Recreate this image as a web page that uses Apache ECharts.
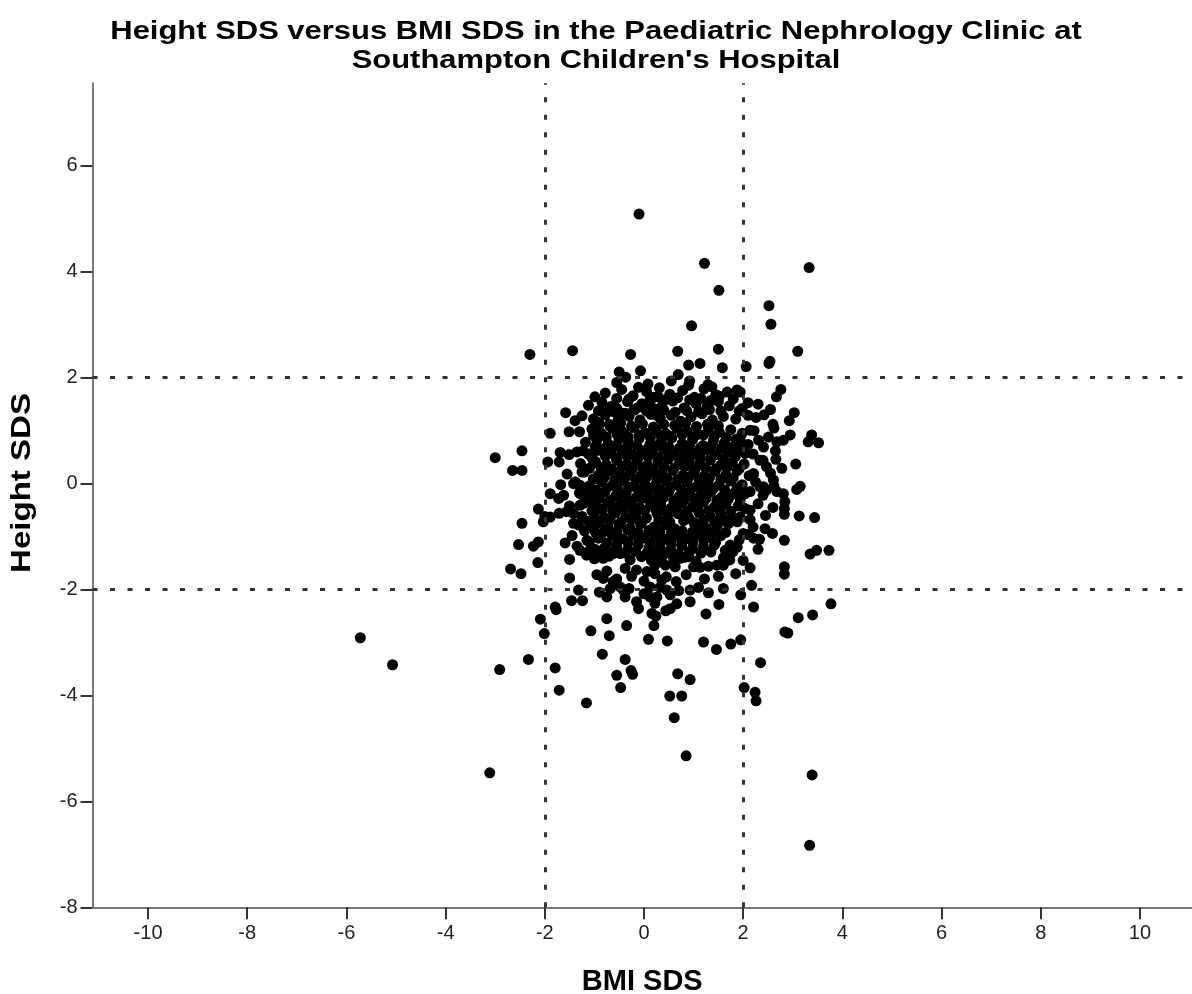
<!DOCTYPE html>
<html><head><meta charset="utf-8">
<script src="https://cdn.jsdelivr.net/npm/echarts@6/dist/echarts.min.js"></script>
<style>html,body{margin:0;padding:0;background:#fff}#c{width:1192px;height:994px}</style>
</head><body><div id="c"></div>
<script>
const titleText = "Height SDS versus BMI SDS in the Paediatric Nephrology Clinic at\nSouthampton Children's Hospital";
const xAxisName = "BMI SDS";
const yAxisName = "Height SDS";
const xTicks = [-10, -8, -6, -4, -2, 0, 2, 4, 6, 8, 10];
const yTicks = [-8, -6, -4, -2, 0, 2, 4, 6];
const refLinesX = [-2, 2];
const refLinesY = [-2, 2];

// [BMI SDS, Height SDS]
const upperPoints = [
[-0.10,5.09],[1.22,4.16],[1.51,3.65],[3.33,4.08],[2.52,3.36],[2.56,3.01],[0.96,2.98],
[-2.30,2.44],[-1.44,2.51],[-0.27,2.44],[0.68,2.50],[1.50,2.54],[3.10,2.50],
[2.54,2.31],[2.52,2.27],[0.90,2.24],[1.13,2.27],[1.58,2.19],[2.06,2.21],
[0.69,2.06],[-0.50,2.11],[-0.07,2.13],[-0.55,1.91],[-0.37,2.01],[-0.11,1.82],[0.08,1.88],
[0.55,1.94],[0.92,1.94],[0.90,1.86],[1.29,1.87],[1.37,1.83],[1.88,1.77],[1.94,1.73],[2.76,1.78],
[2.67,1.64],[3.03,1.34],[2.93,1.19],[2.60,1.12],[2.10,1.53],[1.80,1.60],[1.52,1.65],
[-0.99,1.64],[-1.58,1.34],[-1.39,1.19],[-0.92,1.37],[-0.92,1.16],
[1.92,1.37],[2.10,1.29],[2.26,1.25],[2.51,0.88],[2.68,0.79],[2.81,0.82],[2.95,0.92],
[2.31,0.82],[2.41,0.69],[2.14,1.01],[1.94,0.82],[2.04,0.57],
[2.34,0.44],[2.47,0.32],[2.21,0.19],[2.61,0.07],[2.41,-0.06],
[-0.68,1.45],[-0.55,1.42],[-0.42,1.33],[-0.70,1.12],[-0.55,1.10],
[-0.37,1.33],[-0.19,1.39],[-0.04,1.51],[0.12,1.58],[0.29,1.64],[0.19,1.42],[0.26,1.29]
];

const leftPoints = [
[-3.00,0.49],[-2.46,0.62],[-2.65,0.25],[-2.46,0.25],[-1.89,0.95],[-1.94,0.41],[-1.51,0.98],
[-1.69,0.59],[-1.51,0.55],[-1.71,0.41],[-1.23,0.62],[-1.02,0.59],[-1.01,0.39],[-1.25,0.22],[-1.39,0.03],
[-2.13,-0.48],[-2.46,-0.75],[-2.53,-1.15],[-2.23,-1.18],[-2.13,-1.10],[-2.14,-1.49],
[-2.69,-1.61],[-2.48,-1.70],[-1.59,-1.12],[-1.50,-1.43],[-1.50,-1.78],
[-2.03,-0.72],[-2.00,-0.62],[-1.89,-0.19],[-1.72,-0.28],[-1.89,-0.63],[-1.71,-0.56],[-1.56,-0.53],
[-1.42,-0.56],[-1.42,-0.75],[-1.29,-1.26],[-1.16,-1.35],[-0.99,-1.24],
[-1.29,-0.19],[-1.09,-0.22],[-1.29,-0.41],[-1.02,-0.41],[-1.42,0.00],[-1.29,-0.03],
[-1.09,-0.82],[-0.95,-0.75],[-0.85,-0.94],[-0.75,-0.88],[-1.15,-1.07],[-1.09,-1.26]
];

const rightPoints = [
[3.06,0.37],[3.08,-0.11],[3.15,-0.05],[3.31,0.79],[3.52,0.77],[3.38,0.92],[2.66,0.46],[2.78,0.29],
[2.68,-0.15],[2.81,-0.19],[2.84,-0.34],
[3.35,-1.33],[3.48,-1.26],[3.73,-1.26],[3.44,-0.64],[3.13,-0.61],[2.83,-0.58],[2.83,-0.47],
[2.83,-1.07],[2.59,-0.94],[2.44,-0.85],[2.33,-1.05],[2.21,-1.03],[2.10,-0.96],[2.00,-0.94],
[2.14,-0.68],[1.94,-0.63],[2.04,-0.47],[2.14,-0.50],
[1.94,-0.31],[2.04,-0.19],[1.87,-0.12],[2.14,-0.15],[2.34,-0.06],[2.47,-0.12],
[2.17,-1.92],[2.14,-1.59],[2.83,-1.57],[2.83,-1.71],
[1.47,-1.54],[1.30,-1.56],[1.13,-1.58],[1.00,-1.57],[1.60,-1.54],[1.73,-1.44],
[1.79,-1.29],[1.74,-1.16],[1.64,-1.26]
];

const lowerPoints = [
[-1.46,-2.21],[-1.24,-2.21],[-1.32,-2.01],[-1.79,-2.33],[-1.77,-2.38],[-2.09,-2.56],[-2.01,-2.83],
[-1.07,-2.78],[-0.75,-2.55],[-0.70,-2.87],[-0.35,-2.68],[0.09,-2.94],[0.47,-2.97],
[0.24,-2.50],[0.20,-2.68],[0.53,-2.36],[0.66,-2.27],[0.44,-2.40],[0.93,-2.23],[1.25,-2.46],[1.51,-2.28],
[2.21,-2.33],[2.84,-2.80],[2.90,-2.82],[3.11,-2.53],[3.40,-2.48],[3.77,-2.27],
[-0.82,-1.41],[-0.62,-1.32],[-0.48,-1.32],[-0.75,-1.65],[-0.82,-1.79],
[-0.62,-1.85],[-0.48,-1.95],[-0.38,-2.14],[-0.75,-2.14],
[-0.15,-2.23],[-0.11,-2.36],[0.12,-2.14],
[-0.38,-1.60],[-0.15,-1.63],[0.06,-1.66],[0.22,-1.54],[-0.68,-1.98],[-0.42,-2.01],
[0.93,-2.01],[1.10,-1.96],
[0.22,-2.26],[0.16,-2.45],[0.26,-2.14],[0.46,-2.01],[0.53,-2.10],[0.36,-1.82],[0.22,-1.70],[0.12,-1.95],
[0.63,-1.57],[0.43,-1.54],[0.19,-1.32],[0.29,-1.44],[0.53,-1.26],[0.73,-1.41],[0.90,-1.38],
[-5.72,-2.91],[-5.07,-3.42],[-2.91,-3.51],[-2.33,-3.32],[-3.11,-5.46],[-1.79,-3.48],[-1.71,-3.90],
[-1.16,-4.14],[-0.84,-3.22],[-0.38,-3.32],[-0.55,-3.62],[-0.47,-3.85],[-0.26,-3.53],[-0.23,-3.60],
[0.68,-3.59],[0.93,-3.70],[0.52,-4.01],[0.76,-4.01],[0.61,-4.42],[0.85,-5.14],
[1.20,-2.99],[1.46,-3.13],[1.75,-3.03],[1.95,-2.95],[2.35,-3.38],[2.02,-3.85],[2.24,-3.94],[2.26,-4.10],
[3.39,-5.50],[3.34,-6.83]
];

const corePoints = [
[-0.78,1.71],[-0.45,1.78],[-0.22,1.66],[0.05,1.74],[0.31,1.81],[0.52,1.69],[0.78,1.76],[1.02,1.63],[1.21,1.79],[1.45,1.68],[1.68,1.73],
[-1.12,1.48],[-0.85,1.54],[-0.61,1.47],[-0.33,1.55],[-0.12,1.44],[0.10,1.52],[0.36,1.46],[0.58,1.56],[0.81,1.43],[1.05,1.51],[1.27,1.45],[1.50,1.55],[1.72,1.47],[1.98,1.42],[2.30,1.50],[2.55,1.40],
[-1.25,1.28],[-1.02,1.22],[-0.78,1.30],[-0.52,1.21],[-0.30,1.27],[-0.08,1.20],[0.14,1.31],[0.33,1.23],[0.55,1.29],[0.74,1.18],[0.95,1.26],[1.17,1.32],[1.38,1.20],[1.60,1.27],[1.85,1.22],[2.42,1.30],
[-1.30,0.98],[-1.05,1.03],[-0.86,0.95],[-0.63,1.04],[-0.41,0.97],[-0.20,1.06],[0.02,0.96],[0.24,1.02],[0.45,0.94],[0.66,1.05],[0.87,0.99],[1.08,0.93],[1.30,1.04],[1.52,0.97],[1.75,1.02],[1.98,0.95],[2.22,1.00],[2.62,1.05],
[-1.18,0.78],[-0.95,0.82],[-0.72,0.75],[-0.50,0.84],[-0.31,0.77],[-0.10,0.85],[0.12,0.74],[0.35,0.80],[0.56,0.86],[0.77,0.76],[0.98,0.83],[1.19,0.72],[1.40,0.81],[1.62,0.77],[1.86,0.84],[2.10,0.74],
[-1.35,0.60],[-1.12,0.56],[-0.88,0.63],[-0.66,0.57],[-0.45,0.64],[-0.24,0.55],[-0.04,0.62],[0.18,0.58],[0.39,0.65],[0.60,0.54],[0.82,0.61],[1.03,0.57],[1.24,0.64],[1.46,0.55],[1.70,0.60],[1.92,0.66],[2.20,0.56],[2.65,0.62],
[-1.28,0.38],[-0.98,0.42],[-0.76,0.36],[-0.55,0.44],[-0.34,0.37],[-0.14,0.43],[0.07,0.35],[0.28,0.41],[0.49,0.46],[0.70,0.36],[0.91,0.42],[1.12,0.38],[1.34,0.45],[1.55,0.35],[1.78,0.41],[2.02,0.37],[2.40,0.44],
[-1.55,0.18],[-1.20,0.22],[-0.92,0.16],[-0.70,0.24],[-0.49,0.17],[-0.28,0.23],[-0.06,0.15],[0.15,0.22],[0.36,0.18],[0.58,0.25],[0.79,0.16],[1.00,0.21],[1.21,0.14],[1.43,0.23],[1.65,0.17],[1.88,0.24],[2.12,0.15],[2.55,0.20],
[-1.68,-0.02],[-1.38,0.03],[-1.10,-0.04],[-0.86,0.04],[-0.63,-0.03],[-0.42,0.05],[-0.20,-0.05],[0.01,0.02],[0.22,-0.04],[0.44,0.05],[0.65,-0.02],[0.86,0.04],[1.07,-0.05],[1.29,0.02],[1.51,-0.03],[1.74,0.05],[1.98,-0.02],[2.25,0.03],[2.62,-0.04],
[-1.62,-0.22],[-1.30,-0.17],[-1.02,-0.24],[-0.79,-0.16],[-0.57,-0.23],[-0.36,-0.18],[-0.15,-0.25],[0.07,-0.17],[0.28,-0.22],[0.50,-0.15],[0.71,-0.24],[0.92,-0.18],[1.13,-0.23],[1.35,-0.16],[1.57,-0.25],[1.80,-0.19],[2.40,-0.22],
[-1.50,-0.42],[-1.22,-0.37],[-0.95,-0.44],[-0.73,-0.36],[-0.52,-0.43],[-0.30,-0.38],[-0.09,-0.45],[0.13,-0.36],[0.34,-0.41],[0.55,-0.46],[0.77,-0.37],[0.98,-0.43],[1.20,-0.35],[1.42,-0.44],[1.65,-0.39],[1.90,-0.42],[2.30,-0.38],[2.60,-0.45],
[-1.25,-0.62],[-1.00,-0.57],[-0.80,-0.64],[-0.58,-0.55],[-0.37,-0.63],[-0.16,-0.58],[0.05,-0.65],[0.26,-0.56],[0.48,-0.62],[0.69,-0.57],[0.90,-0.64],[1.11,-0.55],[1.33,-0.61],[1.55,-0.58],[1.78,-0.65],[2.45,-0.60],
[-1.32,-0.78],[-0.72,-0.83],[-0.50,-0.77],[-0.28,-0.84],[-0.07,-0.76],[0.20,-0.82],[0.42,-0.78],[0.62,-0.85],[1.05,-0.77],[1.26,-0.84],[1.48,-0.79],[1.70,-0.76],[2.20,-0.82],
[-1.45,-0.98],[-0.92,-1.03],[-0.64,-0.97],[-0.43,-1.04],[-0.22,-0.96],[0.00,-1.02],[0.21,-0.97],[0.43,-1.05],[0.66,-0.99],[0.88,-1.04],[1.10,-0.96],[1.32,-1.02],[1.55,-0.98],[1.92,-1.06],
[-1.35,-1.18],[-0.80,-1.22],[-0.55,-1.17],[-0.33,-1.24],[-0.12,-1.16],[0.10,-1.22],[0.32,-1.18],[0.54,-1.25],[0.76,-1.17],[0.98,-1.23],[1.20,-1.19],[1.42,-1.16],[1.88,-1.20],[2.30,-1.24],
[-1.00,-1.42],[-0.70,-1.37],[-0.28,-1.44],[-0.05,-1.38],[0.15,-1.45],[0.38,-1.36],[0.60,-1.43],[0.82,-1.39],[1.05,-1.46],[1.60,-1.40],[2.00,-1.45],
[-0.95,-1.72],[-0.55,-1.80],[-0.25,-1.75],[0.00,-1.84],[0.45,-1.76],[0.65,-1.85],[0.85,-1.72],[1.22,-1.80],[1.50,-1.75],[1.85,-1.70],
[-0.90,-2.05],[-0.30,-1.98],[0.00,-2.08],[0.32,-1.96],[0.70,-2.02],[1.30,-2.06],[1.60,-1.98],[1.95,-2.10]
];

const denseCorePoints = [
[-0.55,1.61],[-0.30,1.60],[0.20,1.63],[0.45,1.59],[0.68,1.62],[0.92,1.58],[1.15,1.61],[1.35,1.57],
[-0.88,1.38],[-0.62,1.36],[-0.20,1.40],[0.05,1.37],[0.40,1.39],[0.63,1.35],[0.86,1.38],[1.10,1.36],[1.32,1.40],[1.55,1.37],
[-0.90,1.12],[-0.68,1.08],[-0.47,1.14],[-0.25,1.09],[-0.03,1.13],[0.19,1.07],[0.40,1.12],[0.62,1.10],[0.84,1.14],[1.06,1.08],[1.28,1.12],[1.50,1.09],
[-1.02,0.91],[-0.76,0.88],[-0.54,0.93],[-0.32,0.89],[-0.10,0.92],[0.13,0.87],[0.34,0.91],[0.55,0.89],[0.77,0.93],[0.99,0.88],[1.20,0.92],[1.42,0.90],[1.66,0.87],
[-0.98,0.70],[-0.80,0.67],[-0.57,0.72],[-0.35,0.68],[-0.14,0.71],[0.08,0.66],[0.29,0.73],[0.50,0.69],[0.71,0.67],[0.92,0.72],[1.14,0.68],[1.35,0.71],[1.56,0.67],[1.80,0.70],
[-1.05,0.49],[-0.78,0.52],[-0.56,0.48],[-0.35,0.53],[-0.13,0.47],[0.08,0.51],[0.30,0.49],[0.51,0.54],[0.72,0.47],[0.93,0.50],[1.14,0.48],[1.36,0.52],[1.60,0.47],[1.84,0.51],
[-1.10,0.29],[-0.87,0.31],[-0.65,0.27],[-0.44,0.32],[-0.23,0.28],[-0.02,0.30],[0.19,0.26],[0.40,0.31],[0.61,0.29],[0.82,0.32],[1.03,0.27],[1.24,0.30],[1.45,0.28],[1.68,0.31],[1.92,0.28],
[-1.02,0.09],[-0.80,0.12],[-0.59,0.07],[-0.38,0.11],[-0.17,0.08],[0.05,0.12],[0.26,0.07],[0.47,0.10],[0.68,0.08],[0.90,0.12],[1.11,0.07],[1.32,0.11],[1.55,0.08],[1.80,0.11],
[-1.20,-0.10],[-0.97,-0.12],[-0.75,-0.08],[-0.53,-0.11],[-0.31,-0.07],[-0.10,-0.12],[0.12,-0.09],[0.33,-0.11],[0.54,-0.07],[0.76,-0.12],[0.97,-0.08],[1.18,-0.11],[1.40,-0.09],[1.63,-0.12],[1.88,-0.08],
[-1.12,-0.31],[-0.90,-0.28],[-0.68,-0.32],[-0.46,-0.29],[-0.25,-0.33],[-0.04,-0.28],[0.18,-0.31],[0.39,-0.27],[0.60,-0.32],[0.82,-0.29],[1.03,-0.31],[1.25,-0.28],[1.47,-0.32],[1.70,-0.29],
[-1.05,-0.51],[-0.84,-0.48],[-0.63,-0.52],[-0.41,-0.49],[-0.20,-0.53],[0.02,-0.50],[0.23,-0.47],[0.44,-0.52],[0.66,-0.49],[0.87,-0.53],[1.08,-0.48],[1.30,-0.51],[1.52,-0.49],[1.75,-0.52],
[-1.12,-0.71],[-0.90,-0.73],[-0.68,-0.69],[-0.46,-0.72],[-0.25,-0.68],[-0.03,-0.71],[0.30,-0.69],[0.52,-0.72],[0.80,-0.70],[1.00,-0.73],[1.20,-0.69],[1.42,-0.71],[1.62,-0.68],[1.88,-0.72],
[-1.20,-0.89],[-0.98,-0.92],[-0.78,-0.88],[-0.55,-0.91],[-0.33,-0.87],[-0.12,-0.92],[0.10,-0.88],[0.32,-0.91],[0.55,-0.93],[0.77,-0.89],[0.98,-0.91],[1.20,-0.87],[1.42,-0.90],[1.65,-0.92],
[-1.10,-1.10],[-0.75,-1.12],[-0.53,-1.08],[-0.32,-1.11],[-0.10,-1.07],[0.12,-1.12],[0.33,-1.09],[0.55,-1.13],[0.77,-1.08],[0.99,-1.11],[1.21,-1.07],[1.45,-1.10],
[-0.90,-1.30],[-0.60,-1.27],[-0.38,-1.31],[-0.17,-1.28],[0.05,-1.32],[0.27,-1.27],[0.48,-1.30],[0.70,-1.33],[0.92,-1.28],[1.15,-1.31],[1.35,-1.29]
];

const allPoints = [].concat(upperPoints, leftPoints, rightPoints, lowerPoints, corePoints, denseCorePoints);
const FONT = '"Liberation Sans", Arial, Helvetica, sans-serif';

const chart = echarts.init(document.getElementById('c'), null, {renderer: 'canvas'});
chart.setOption({
  animation: false,
  backgroundColor: '#fff',
  graphic: [{
    type: 'text',
    x: 596, y: 17,
    scaleX: 1.19,
    style: {
      text: titleText,
      font: 'bold 26px ' + FONT,
      lineHeight: 29,
      textAlign: 'center',
      textVerticalAlign: 'top',
      fill: '#000'
    }
  }, {
    type: 'text',
    x: 22, y: 483,
    rotation: Math.PI / 2,
    scaleX: 1.18,
    style: {
      text: yAxisName,
      font: 'bold 28px ' + FONT,
      textAlign: 'center',
      textVerticalAlign: 'middle',
      fill: '#000'
    }
  }],
  grid: {left: 92.5, right: 0, top: 83.3, bottom: 86.7, containLabel: false, outerBoundsMode: 'none'},
  xAxis: {
    type: 'value', min: -11.12, max: 11.05,
    name: xAxisName, nameLocation: 'middle', nameGap: 60,
    nameTextStyle: {fontFamily: FONT, fontWeight: 'bold', fontSize: 29, color: '#000'},
    axisLine: {show: true, onZero: false, lineStyle: {color: '#777', width: 2}},
    axisTick: {show: true, customValues: xTicks, length: 12, lineStyle: {color: '#333', width: 2}},
    axisLabel: {customValues: xTicks, fontFamily: FONT, fontSize: 20, color: '#222', margin: 16},
    splitLine: {show: false}
  },
  yAxis: {
    type: 'value', min: -8, max: 7.56,
    axisLine: {show: true, onZero: false, lineStyle: {color: '#777', width: 2}},
    axisTick: {show: true, customValues: yTicks, length: 12, lineStyle: {color: '#333', width: 2}},
    axisLabel: {customValues: yTicks, fontFamily: FONT, fontSize: 20, color: '#222', margin: 15},
    splitLine: {show: false}
  },
  series: [{
    type: 'scatter',
    data: allPoints,
    symbol: 'circle',
    symbolSize: 11,
    itemStyle: {color: '#000', opacity: 1},
    z: 3,
    markLine: {
      silent: true,
      symbol: ['none', 'none'],
      label: {show: false},
      lineStyle: {color: '#333', width: 3, type: [5, 12.5]},
      data: refLinesX.map(v => ({xAxis: v})).concat(refLinesY.map(v => ({yAxis: v})))
    }
  }]
});
</script></body></html>
